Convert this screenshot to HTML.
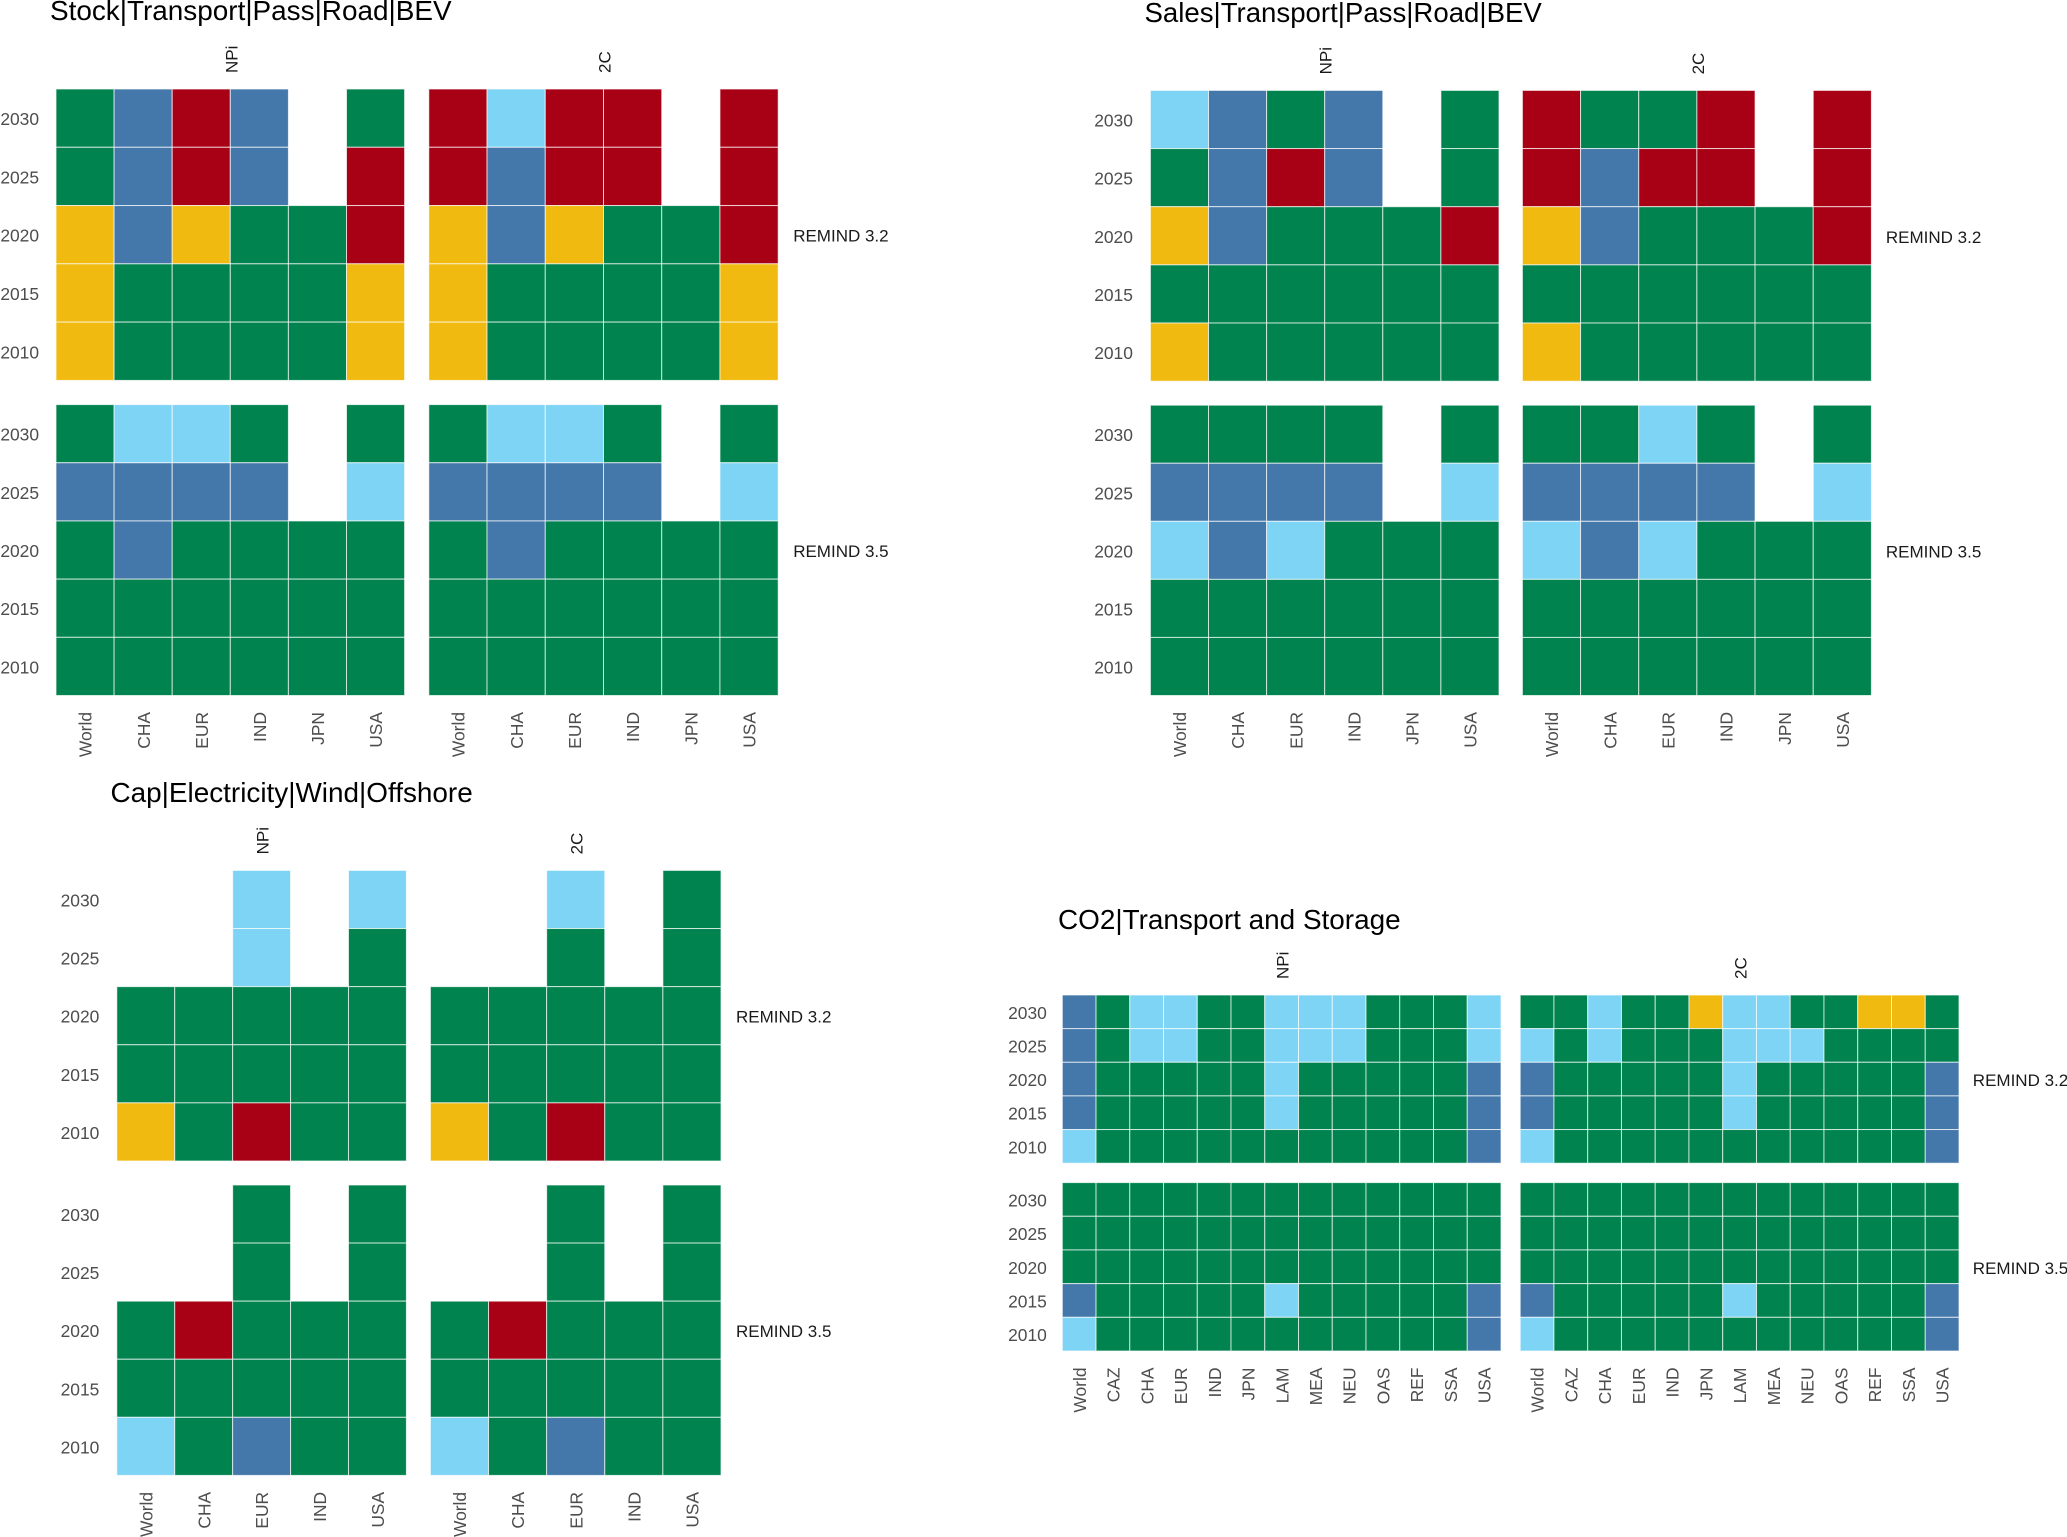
<!DOCTYPE html>
<html lang="en">
<head>
<meta charset="utf-8">
<title>Model validation heatmaps</title>
<style>
html,body{margin:0;padding:0;background:#fff;}
body{width:2067px;height:1537px;overflow:hidden;}
svg{display:block;}
text{font-family:"Liberation Sans",Arial,sans-serif;}
.title{font-size:27.9px;fill:#000;}
.tick{font-size:17.4px;fill:#4d4d4d;}
.strip{font-size:17px;fill:#1a1a1a;}
</style>
</head>
<body>
<svg id="root" xmlns="http://www.w3.org/2000/svg" width="2067" height="1537" viewBox="0 0 2067 1537">
<text class="title" x="50" y="20">Stock|Transport|Pass|Road|BEV</text>
<text class="title" x="1144.5" y="22" style="font-size:27.6px">Sales|Transport|Pass|Road|BEV</text>
<text class="title" x="110.5" y="802">Cap|Electricity|Wind|Offshore</text>
<text class="title" x="1058" y="929">CO2|Transport and Storage</text>
</svg>
<script>
// Shared axis categories
const years = ["2030", "2025", "2020", "2015", "2010"];
const regionsSix = ["World", "CHA", "EUR", "IND", "JPN", "USA"];
const regionsFive = ["World", "CHA", "EUR", "IND", "USA"];
const regionsThirteen = ["World", "CAZ", "CHA", "EUR", "IND", "JPN", "LAM", "MEA", "NEU", "OAS", "REF", "SSA", "USA"];
const scenarios = ["NPi", "2C"];
const models = ["REMIND 3.2", "REMIND 3.5"];

// Status per cell: G green, L light blue, B blue, Y yellow, R red, - no data. One string per year, one letter per region.
const stockNpi32 = ["GBRB-G", "GBRB-R", "YBYGGR", "YGGGGY", "YGGGGY"];
const stock2c32 = ["RLRR-R", "RBRR-R", "YBYGGR", "YGGGGY", "YGGGGY"];
const stockNpi35 = ["GLLG-G", "BBBB-L", "GBGGGG", "GGGGGG", "GGGGGG"];
const stock2c35 = ["GLLG-G", "BBBB-L", "GBGGGG", "GGGGGG", "GGGGGG"];

const salesNpi32 = ["LBGB-G", "GBRB-G", "YBGGGR", "GGGGGG", "YGGGGG"];
const sales2c32 = ["RGGR-R", "RBRR-R", "YBGGGR", "GGGGGG", "YGGGGG"];
const salesNpi35 = ["GGGG-G", "BBBB-L", "LBLGGG", "GGGGGG", "GGGGGG"];
const sales2c35 = ["GGLG-G", "BBBB-L", "LBLGGG", "GGGGGG", "GGGGGG"];

const capNpi32 = ["--L-L", "--L-G", "GGGGG", "GGGGG", "YGRGG"];
const cap2c32 = ["--L-G", "--G-G", "GGGGG", "GGGGG", "YGRGG"];
const capNpi35 = ["--G-G", "--G-G", "GRGGG", "GGGGG", "LGBGG"];
const cap2c35 = ["--G-G", "--G-G", "GRGGG", "GGGGG", "LGBGG"];

const co2Npi32 = ["BGLLGGLLLGGGL", "BGLLGGLLLGGGL", "BGGGGGLGGGGGB", "BGGGGGLGGGGGB", "LGGGGGGGGGGGB"];
const co22c32 = ["GGLGGYLLGGYYG", "LGLGGGLLLGGGG", "BGGGGGLGGGGGB", "BGGGGGLGGGGGB", "LGGGGGGGGGGGB"];
const co2Npi35 = ["GGGGGGGGGGGGG", "GGGGGGGGGGGGG", "GGGGGGGGGGGGG", "BGGGGGLGGGGGB", "LGGGGGGGGGGGB"];
const co22c35 = ["GGGGGGGGGGGGG", "GGGGGGGGGGGGG", "GGGGGGGGGGGGG", "BGGGGGLGGGGGB", "LGGGGGGGGGGGB"];

const statusColor = {G: "#00834f", L: "#7dd4f5", B: "#4477aa", Y: "#f0ba10", R: "#a80014"};

const NS = "http://www.w3.org/2000/svg";
const root = document.getElementById("root");

function addText(parent, cls, str, x, y, anchor, rot) {
  const t = document.createElementNS(NS, "text");
  t.setAttribute("class", cls);
  t.setAttribute("text-anchor", anchor);
  if (rot) {
    t.setAttribute("transform", "translate(" + x + " " + y + ") rotate(-90)");
  } else {
    t.setAttribute("x", x);
    t.setAttribute("y", y);
  }
  t.textContent = str;
  parent.appendChild(t);
  return t;
}

// Draws one titled 2x2 heatmap facet grid from its data arrays.
function drawChart(name, cfg, regions, grids) {
  const g = document.createElementNS(NS, "g");
  
  
  root.appendChild(g);

  const colWidth = function (p) { return (cfg.xs[p][1] - cfg.xs[p][0]) / regions.length; };
  const rowHeight = function (m) { return (cfg.ys[m][1] - cfg.ys[m][0]) / years.length; };
  const xScale = function (p, i) { return cfg.xs[p][0] + i * colWidth(p); };
  const yScale = function (m, j) { return cfg.ys[m][0] + j * rowHeight(m); };

  scenarios.forEach(function (scenario, p) {
    const cx = (cfg.xs[p][0] + cfg.xs[p][1]) / 2 + 7;
    const s = addText(g, "strip", scenario, cx, cfg.ys[0][0] - 16, "start", true);
    
    

    regions.forEach(function (region, i) {
      const tx = xScale(p, i) + colWidth(p) / 2 + 6.6;
      const t = addText(g, "tick", region, tx, cfg.ys[1][1] + 16.5, "end", true);
      
      
    });
  });

  models.forEach(function (model, m) {
    const midY = yScale(m, 2) + rowHeight(m) / 2 + 7;
    const s = addText(g, "strip", model, cfg.xs[1][1] + cfg.stripGap, midY, "start", false);
    
    

    years.forEach(function (year, j) {
      const ty = yScale(m, j) + rowHeight(m) / 2 + 7;
      const t = addText(g, "tick", year, cfg.xs[0][0] - cfg.tickGap, ty, "end", false);
      
      
    });

    scenarios.forEach(function (scenario, p) {
      const rows = grids[m][p];
      rows.forEach(function (row, j) {
        regions.forEach(function (region, i) {
          const code = row.charAt(i);
          if (!statusColor[code]) { return; }
          const c = document.createElementNS(NS, "rect");
          c.setAttribute("x", xScale(p, i));
          c.setAttribute("y", yScale(m, j));
          c.setAttribute("width", colWidth(p));
          c.setAttribute("height", rowHeight(m));
          c.setAttribute("fill", statusColor[code]);
          c.setAttribute("stroke", "#ffffff");
          c.setAttribute("stroke-opacity", "0.7");
          c.setAttribute("stroke-width", "1");
          
          
          g.appendChild(c);
        });
      });
    });
  });
}

drawChart("stock", {
  xs: [[56, 404.6], [428.8, 778.2]],
  ys: [[89, 380.4], [404.6, 695.5]],
  tickGap: 17,
  stripGap: 15
}, regionsSix, [[stockNpi32, stock2c32], [stockNpi35, stock2c35]]);

drawChart("sales", {
  xs: [[1150.4, 1499], [1522.4, 1871.4]],
  ys: [[90.4, 381.2], [405.2, 695.5]],
  tickGap: 17.5,
  stripGap: 14.5
}, regionsSix, [[salesNpi32, sales2c32], [salesNpi35, sales2c35]]);

drawChart("capacity", {
  xs: [[116.8, 406.4], [430.4, 721]],
  ys: [[870.4, 1161], [1185, 1475.4]],
  tickGap: 17.5,
  stripGap: 15
}, regionsFive, [[capNpi32, cap2c32], [capNpi35, cap2c35]]);

drawChart("co2", {
  xs: [[1062.3, 1501], [1520.2, 1959]],
  ys: [[995, 1163.2], [1182.6, 1351]],
  tickGap: 15.5,
  stripGap: 13.8
}, regionsThirteen, [[co2Npi32, co22c32], [co2Npi35, co22c35]]);
</script>
</body>
</html>
